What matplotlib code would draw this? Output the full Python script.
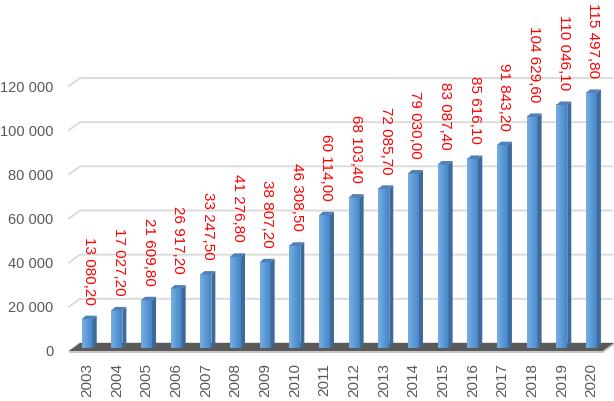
import numpy as np
import matplotlib
matplotlib.use("Agg")
import matplotlib.pyplot as plt
from matplotlib.patches import Polygon
from matplotlib.colors import LinearSegmentedColormap
import matplotlib.transforms as mtransforms

# data
years = [str(y) for y in range(2003, 2021)]
values = [13080.20, 17027.20, 21609.80, 26917.20, 33247.50, 41276.80, 38807.20,
          46308.50, 60114.00, 68103.40, 72085.70, 79030.00, 83087.40, 85616.10,
          91843.20, 104629.60, 110046.10, 115497.80]
yticks = [0, 20000, 40000, 60000, 80000, 100000, 120000]

plt.rcParams['font.family'] = ['Liberation Sans', 'DejaVu Sans']

W, H = 614, 401
fig = plt.figure(figsize=(W / 100, H / 100), dpi=100)

# pixel geometry of the bar plane
x0_px, step_px = 87.2, 29.66          # first bar centre, spacing
y0_px, k = 348.0, 265.0 / 120000      # zero line, px per unit
ax_left, ax_right = 66, 614
ax = fig.add_axes([ax_left / W, (H - y0_px) / H, (ax_right - ax_left) / W, y0_px / H])

def ux(px):
    return (px - x0_px) / step_px

def uy(px):
    return px / k

x = np.arange(len(values))
bw = 11 / step_px
dx, dy = ux(x0_px + 4), uy(3.5)

# back wall gridlines with the little slanted piece on the left
xf, xb, xr = ux(69), ux(80), ux(612)
for v in yticks:
    ax.plot([xf, xb, xr], [v - uy(3), v + uy(5), v + uy(5)], color='#d9d9d9',
            lw=1.3, zorder=0, clip_on=False, solid_joinstyle='miter')

# floor
floor = Polygon([(xf, -uy(3)), (xb, uy(5)), (ux(614), uy(5)), (ux(603), -uy(3))],
                closed=True, facecolor='#5a5a5a', edgecolor='none', zorder=1, clip_on=False)
ax.add_patch(floor)
band = Polygon([(xf, -uy(3)), (ux(603), -uy(3)), (ux(614), uy(5)), (ux(614), uy(3)),
                (ux(603), -uy(5)), (xf, -uy(5))],
               closed=True, facecolor='#c8c8c8', edgecolor='none', zorder=1, clip_on=False)
ax.add_patch(band)

# 3d-ish bars
cmap = LinearSegmentedColormap.from_list('bar', ['#78ade4', '#5b9bd5', '#4784c5'])
grad = np.linspace(0, 1, 64).reshape(1, -1)
for xi, v in zip(x, values):
    xl, xr_ = xi - bw / 2, xi + bw / 2
    ax.imshow(grad, cmap=cmap, extent=(xl, xr_, 0, v), aspect='auto', zorder=3,
              interpolation='bilinear')
    side = Polygon([(xr_, 0), (xr_ + dx, dy), (xr_ + dx, v + dy), (xr_, v)],
                   facecolor='#3c6a9c', edgecolor='none', zorder=3)
    top = Polygon([(xl, v), (xr_, v), (xr_ + dx, v + dy), (xl + dx, v + dy)],
                  facecolor='#4f80b8', edgecolor='none', zorder=3)
    ax.add_patch(side)
    ax.add_patch(top)
    lab = f"{v:,.2f}".replace(',', ' ').replace('.', ',')
    ax.annotate(lab, (xi + dx / 2, v + dy), xytext=(0, 8), textcoords='offset points',
                rotation=270, ha='center', va='bottom', color='#ff0000', fontsize=11,
                zorder=4, annotation_clip=False)

ax.set_xlim(ux(ax_left), ux(ax_right))
ax.set_ylim(0, uy(y0_px))

ax.set_xticks(x)
ax.set_xticklabels(years, rotation=90, fontsize=11, color='#595959')
ax.set_yticks(yticks)
ax.set_yticklabels([f"{v:,}".replace(',', ' ') for v in yticks], fontsize=10.5, color='#595959')
ax.tick_params(axis='both', length=0)
ax.tick_params(axis='x', pad=11)
ax.tick_params(axis='y', pad=9)
shift = mtransforms.ScaledTranslation(0, -3 / 100, fig.dpi_scale_trans)
for t in ax.get_yticklabels():
    t.set_transform(t.get_transform() + shift)
for s in ax.spines.values():
    s.set_visible(False)
ax.patch.set_alpha(0)

fig.savefig('out.png', dpi=100)
